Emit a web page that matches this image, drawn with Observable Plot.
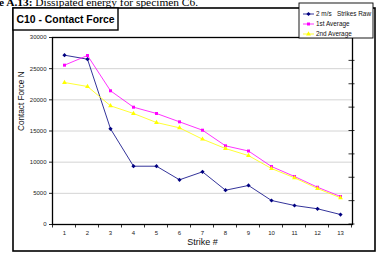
<!DOCTYPE html>
<html>
<head>
<meta charset="utf-8">
<script src="https://cdn.jsdelivr.net/npm/d3@7"></script>
<script src="https://cdn.jsdelivr.net/npm/@observablehq/plot@0.6"></script>
<style>
  html, body { margin: 0; padding: 0; background: white; }
  svg { display: block; }
</style>
</head>
<body>
<div id="chart"></div>
<script>
// Strike numbers along the x axis
const strikes = [1, 2, 3, 4, 5, 6, 7, 8, 9, 10, 11, 12, 13];

// Contact force per strike (N)
const raw = [27160, 26520, 15350, 9350, 9350, 7170, 8450, 5500, 6260, 3850, 3050, 2520, 1600];
const avg1 = [25560, 27110, 21450, 18820, 17810, 16470, 15130, 12620, 11790, 9300, 7700, 5980, 4490];
const avg2 = [22780, 22140, 19040, 17810, 16360, 15510, 13690, 12190, 11050, 8980, 7490, 5775, 4280];

const seriesNames = ["2 m/s   Strikes Raw", "1st Average", "2nd Average"];
const seriesColors = ["#000080", "#ff00ff", "#ffff00"];
const seriesSymbols = ["diamond2", "square2", "triangle2"];

const yTicks = [0, 5000, 10000, 15000, 20000, 25000, 30000];
const rightTicks = [0, 3750, 7500, 11250, 15000, 18750, 22500, 26250, 30000];

const chartTitle = "C10 - Contact Force";
const xTitle = "Strike #";
const yTitle = "Contact Force N";
const captionLabel = "Figure A.13:";
const captionText = " Dissipated energy for specimen C6.";

const seriesValues = [raw, avg1, avg2];
const rows = seriesValues.flatMap((vals, s) =>
  strikes.map((k, i) => ({strike: k, force: vals[i], series: seriesNames[s]})));

const lineMarks = seriesNames.flatMap((name, s) => {
  const data = rows.filter(d => d.series === name);
  return [
    Plot.line(data, {x: "strike", y: "force", stroke: seriesColors[s], strokeWidth: 0.8}),
    Plot.dot(data, {x: "strike", y: "force", symbol: seriesSymbols[s], fill: seriesColors[s],
      r: s === 2 ? 2.3 : 1.9, stroke: "none"})
  ];
});

const plot = Plot.plot({
  width: 378,
  height: 253,
  marginLeft: 52,
  marginRight: 26,
  marginTop: 37,
  marginBottom: 29,
  style: {fontFamily: "'Liberation Sans', Arial, sans-serif", background: "white", color: "#222"},
  x: {type: "point", domain: strikes, padding: 0.5},
  y: {domain: [0, 30000]},
  marks: [
    Plot.gridY(yTicks.filter(t => t > 0 && t < 30000), {stroke: "#d4d4d4", strokeOpacity: 1, strokeWidth: 1}),
    Plot.axisY({ticks: yTicks, tickSize: 3, tickPadding: 3, fontSize: 6, label: null, tickFormat: d => String(d)}),
    Plot.axisX({tickSize: 0, tickPadding: 6, fontSize: 6, label: null}),
    Plot.text([xTitle], {frameAnchor: "bottom", dy: 20, fontSize: 9, fill: "#111"}),
    Plot.text([yTitle], {frameAnchor: "left", dx: -31, rotate: -90, fontSize: 8.2, fill: "#111"}),
    ...lineMarks,
    Plot.frame({stroke: "black", strokeWidth: 1.3})
  ]
});

document.getElementById("chart").appendChild(plot);

// Decorations built from the plot's own scales
const svg = d3.select(plot);
const xs = plot.scale("x");
const ys = plot.scale("y");
const step = xs.apply(strikes[1]) - xs.apply(strikes[0]);
const yBottom = ys.apply(0);
const xRight = xs.apply(strikes[strikes.length - 1]) + step / 2;

// x tick marks between the strike categories
const bounds = strikes.map(k => xs.apply(k) - step / 2).concat([xRight]);
svg.append("g").selectAll("line").data(bounds).join("line")
  .attr("x1", d => d).attr("x2", d => d)
  .attr("y1", yBottom).attr("y2", yBottom + 3.5)
  .attr("stroke", "black").attr("stroke-width", 0.8);

// secondary axis tick marks on the right edge
svg.append("g").selectAll("line").data(rightTicks).join("line")
  .attr("x1", xRight - 3).attr("x2", xRight + 3)
  .attr("y1", d => ys.apply(d)).attr("y2", d => ys.apply(d))
  .attr("stroke", "black").attr("stroke-width", 0.8);

// outer chart border
svg.append("rect")
  .attr("x", 13).attr("y", 8).attr("width", 362).attr("height", 243)
  .attr("fill", "none").attr("stroke", "black").attr("stroke-width", 1.6);

// title box
svg.append("rect")
  .attr("x", 13).attr("y", 8).attr("width", 105).attr("height", 22)
  .attr("fill", "white").attr("stroke", "black").attr("stroke-width", 1.4);
svg.append("text")
  .attr("x", 16.5).attr("y", 23)
  .attr("text-anchor", "start")
  .attr("font-family", "'Liberation Sans', Arial, sans-serif")
  .attr("font-weight", "bold").attr("font-size", 10.4).attr("fill", "black")
  .text(chartTitle);

// legend
const lg = svg.append("g").attr("text-anchor", "start");
lg.append("rect")
  .attr("x", 299).attr("y", 3).attr("width", 74).attr("height", 35)
  .attr("fill", "white").attr("stroke", "black").attr("stroke-width", 0.9);
const d3Symbols = [d3.symbolDiamond2, d3.symbolSquare2, d3.symbolTriangle2];
seriesNames.forEach((name, s) => {
  const yy = 14 + s * 10;
  lg.append("line").attr("x1", 303).attr("x2", 314).attr("y1", yy).attr("y2", yy)
    .attr("stroke", seriesColors[s]).attr("stroke-width", 0.8);
  const r = s === 2 ? 2.3 : 1.9;
  lg.append("path").attr("transform", `translate(308.5,${yy})`)
    .attr("d", d3.symbol(d3Symbols[s], r * r * Math.PI)())
    .attr("fill", seriesColors[s]);
  lg.append("text").attr("x", 316).attr("y", yy + 2.2)
    .attr("text-anchor", "start")
    .attr("font-family", "'Liberation Sans', Arial, sans-serif")
    .attr("font-size", 6.4).attr("fill", "#111")
    .style("white-space", "pre")
    .text(name);
});

// caption line from the page above
const cap = svg.append("text")
  .attr("x", 198).attr("y", 6)
  .attr("text-anchor", "end")
  .attr("font-family", "'Liberation Serif', 'Times New Roman', serif")
  .attr("font-size", 11.4).attr("fill", "black");
cap.append("tspan").attr("font-weight", "bold").text(captionLabel);
cap.append("tspan").style("white-space", "pre").text(captionText);
</script>
</body>
</html>
